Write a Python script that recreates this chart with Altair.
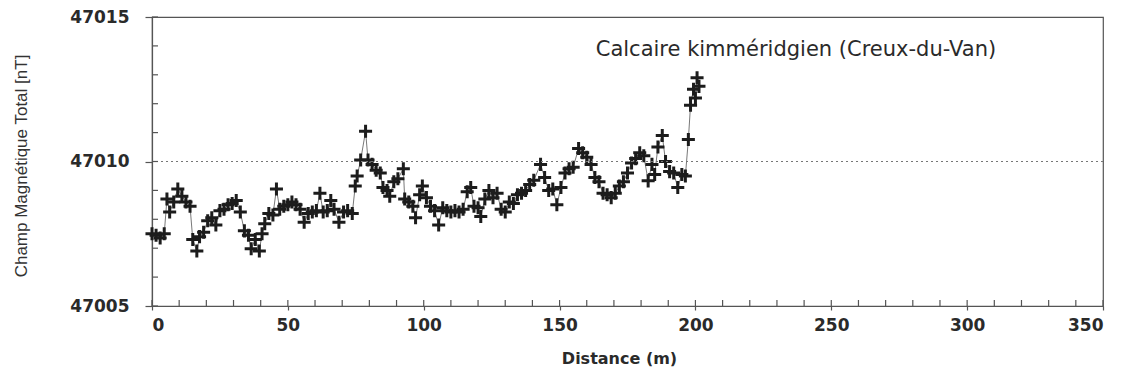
import altair as alt
import pandas as pd

# distance along profile (m) and total magnetic field (nT)
distance = [0, 1.5, 3, 4.5, 5.5, 6.5, 8, 9.5, 11, 12.5, 14, 15, 16.5, 17.5, 19, 20.5, 22, 23.5,
            25, 26.5, 28, 29.5, 31, 32.5, 34, 35.5, 36.5, 38, 39.5, 40.5, 41.5, 43, 44.5, 45.8,
            47, 48.5, 50, 51.5, 53, 54.5, 56, 57.5, 59, 60.5, 61.8, 63, 64.5, 65.8, 67, 68.8,
            70.5, 72, 73.7, 74.8, 75.5, 76.8, 78.6, 79.5, 81, 82.5, 84, 85, 86.5, 87.5, 89,
            90.5, 92.5, 93, 94.5, 96, 97, 98.5, 99.5, 101, 102.5, 104, 105.5, 107, 108.5, 110,
            111.5, 113, 114.5, 116, 117.3, 118.5, 120, 121, 122.5, 124, 125.5, 127, 128.5, 130,
            131.5, 133, 134.5, 136, 137.5, 139, 140.5, 143, 144.5, 146, 147.5, 149, 150.5, 152,
            153.5, 155, 157, 158.5, 160, 161.6, 163, 164.5, 166, 167.5, 169, 170.5, 172, 173.5,
            175, 176.5, 178, 179.5, 181, 182.6, 184, 185, 186.2, 187.8, 189, 190.5, 192, 193.5,
            195, 196.3, 197.4, 198.2, 199.3, 200, 200.6, 201.3]
field = [47007.5, 47007.45, 47007.35, 47007.5, 47008.7, 47008.25, 47008.6, 47009.05, 47008.8,
         47008.6, 47008.45, 47007.3, 47006.9, 47007.4, 47007.55, 47007.95, 47008.05, 47007.8,
         47008.3, 47008.35, 47008.5, 47008.55, 47008.65, 47008.25, 47007.6, 47007.45, 47006.98,
         47007.3, 47006.9, 47007.5, 47007.85, 47008.2, 47008.15, 47009.05, 47008.35, 47008.45,
         47008.5, 47008.6, 47008.5, 47008.35, 47007.9, 47008.2, 47008.25, 47008.3, 47008.9,
         47008.25, 47008.3, 47008.65, 47008.35, 47007.9, 47008.25, 47008.3, 47008.2, 47009.15,
         47009.5, 47010.05, 47011.05, 47010.05, 47009.9, 47009.7, 47009.6, 47009.1, 47009.0,
         47008.8, 47009.3, 47009.4, 47009.75, 47008.7, 47008.6, 47008.45, 47008.05, 47008.85,
         47009.15, 47008.75, 47008.45, 47008.3, 47007.8, 47008.4, 47008.3, 47008.25, 47008.3,
         47008.25, 47008.35, 47008.95, 47009.1, 47008.45, 47008.4, 47008.1, 47008.7, 47009.0,
         47008.75, 47008.9, 47008.35, 47008.25, 47008.6, 47008.55, 47008.85, 47008.9, 47009.0,
         47009.2, 47009.35, 47009.9, 47009.45, 47009.0, 47009.05, 47008.5, 47009.1, 47009.6,
         47009.75, 47009.8, 47010.45, 47010.3, 47010.15, 47009.9, 47009.45, 47009.3, 47008.9,
         47008.85, 47008.75, 47008.9, 47009.15, 47009.3, 47009.6, 47009.95, 47010.1, 47010.3,
         47010.2, 47009.33, 47009.9, 47009.55, 47010.5, 47010.9, 47010.0, 47009.65, 47009.6,
         47009.1, 47009.55, 47009.5, 47010.76, 47011.95, 47012.5, 47012.2, 47012.9, 47012.6]

x_major = [0, 50, 100, 150, 200, 250, 300, 350]
x_minor = list(range(0, 351, 10))
y_major = [47005, 47010, 47015]
y_minor = list(range(47005, 47016, 1))
reference_level = [47010]
label_text = ["Calcaire kimméridgien (Creux-du-Van)"]
label_x = [237]
label_y = [47013.85]

W, H = 951, 289
df = pd.DataFrame({"d": distance, "v": field})

xscale = alt.Scale(domain=[0, 350], nice=False, zero=False)
yscale = alt.Scale(domain=[47005, 47015], nice=False, zero=False)

x_axis = alt.Axis(values=x_major, format="d", tickSize=4, labelPadding=7,
                  title="Distance (m)", titleX=467, titleY=52, titleBaseline="middle",
                  titleAlign="center", titleFont="DejaVu Sans", titleFontSize=16,
                  titleFontWeight="bold", titleColor="#2a2a2a")
y_axis = alt.Axis(values=y_major, format="d", tickSize=7, labelPadding=16,
                  title="Champ Magnétique Total [nT]", titleAngle=270, titleX=-131,
                  titleY=H / 2 + 4, titleAlign="center", titleBaseline="middle",
                  titleFont="Liberation Sans", titleFontSize=17,
                  titleFontWeight="normal", titleColor="#333")


def X(field_name):
    return alt.X(field_name, type="quantitative", scale=xscale, axis=x_axis)


def Y(field_name):
    return alt.Y(field_name, type="quantitative", scale=yscale, axis=y_axis)


base = alt.Chart(df)
line = base.mark_line(color="#555", strokeWidth=0.8).encode(x=X("d"), y=Y("v"))
pts = base.mark_point(shape="M-1,0L1,0M0,-1L0,1", filled=False, size=170,
                      strokeWidth=3, color="#1c1c1c", opacity=1).encode(x=X("d"), y=Y("v"))
ref = alt.Chart(pd.DataFrame({"r": reference_level})).mark_rule(
    color="#777", strokeWidth=1, strokeDash=[2, 3]).encode(y=Y("r"))

xt = alt.Chart(pd.DataFrame({"t": x_minor})).mark_rule(color="#555", strokeWidth=1.2).encode(
    x=X("t"), y=alt.value(H), y2=alt.value(H - 6))
yt = alt.Chart(pd.DataFrame({"t": y_minor})).mark_rule(color="#555", strokeWidth=1.2).encode(
    y=Y("t"), x=alt.value(0), x2=alt.value(6))

txt = alt.Chart(pd.DataFrame({"s": label_text, "x": label_x, "y": label_y})).mark_text(
    font="DejaVu Sans", fontSize=21, color="#2a2a2a", align="center", baseline="middle").encode(
    x=X("x"), y=Y("y"), text="s:N")

chart = alt.layer(line, pts, ref, xt, yt, txt).properties(
    width=W, height=H,
    autosize=alt.AutoSizeParams(type="none"),
    padding={"left": 144, "top": 9, "right": 16, "bottom": 66},
    background="white",
).configure_view(stroke="#555", strokeWidth=1.2).configure_axis(
    grid=False, domainColor="#555", domainWidth=1.2, tickColor="#555", tickWidth=1.2,
    labelFont="DejaVu Sans", labelFontSize=17, labelFontWeight="bold", labelColor="#2a2a2a",
)

chart.save("out.html", embed_options={"renderer": "svg", "actions": False})
